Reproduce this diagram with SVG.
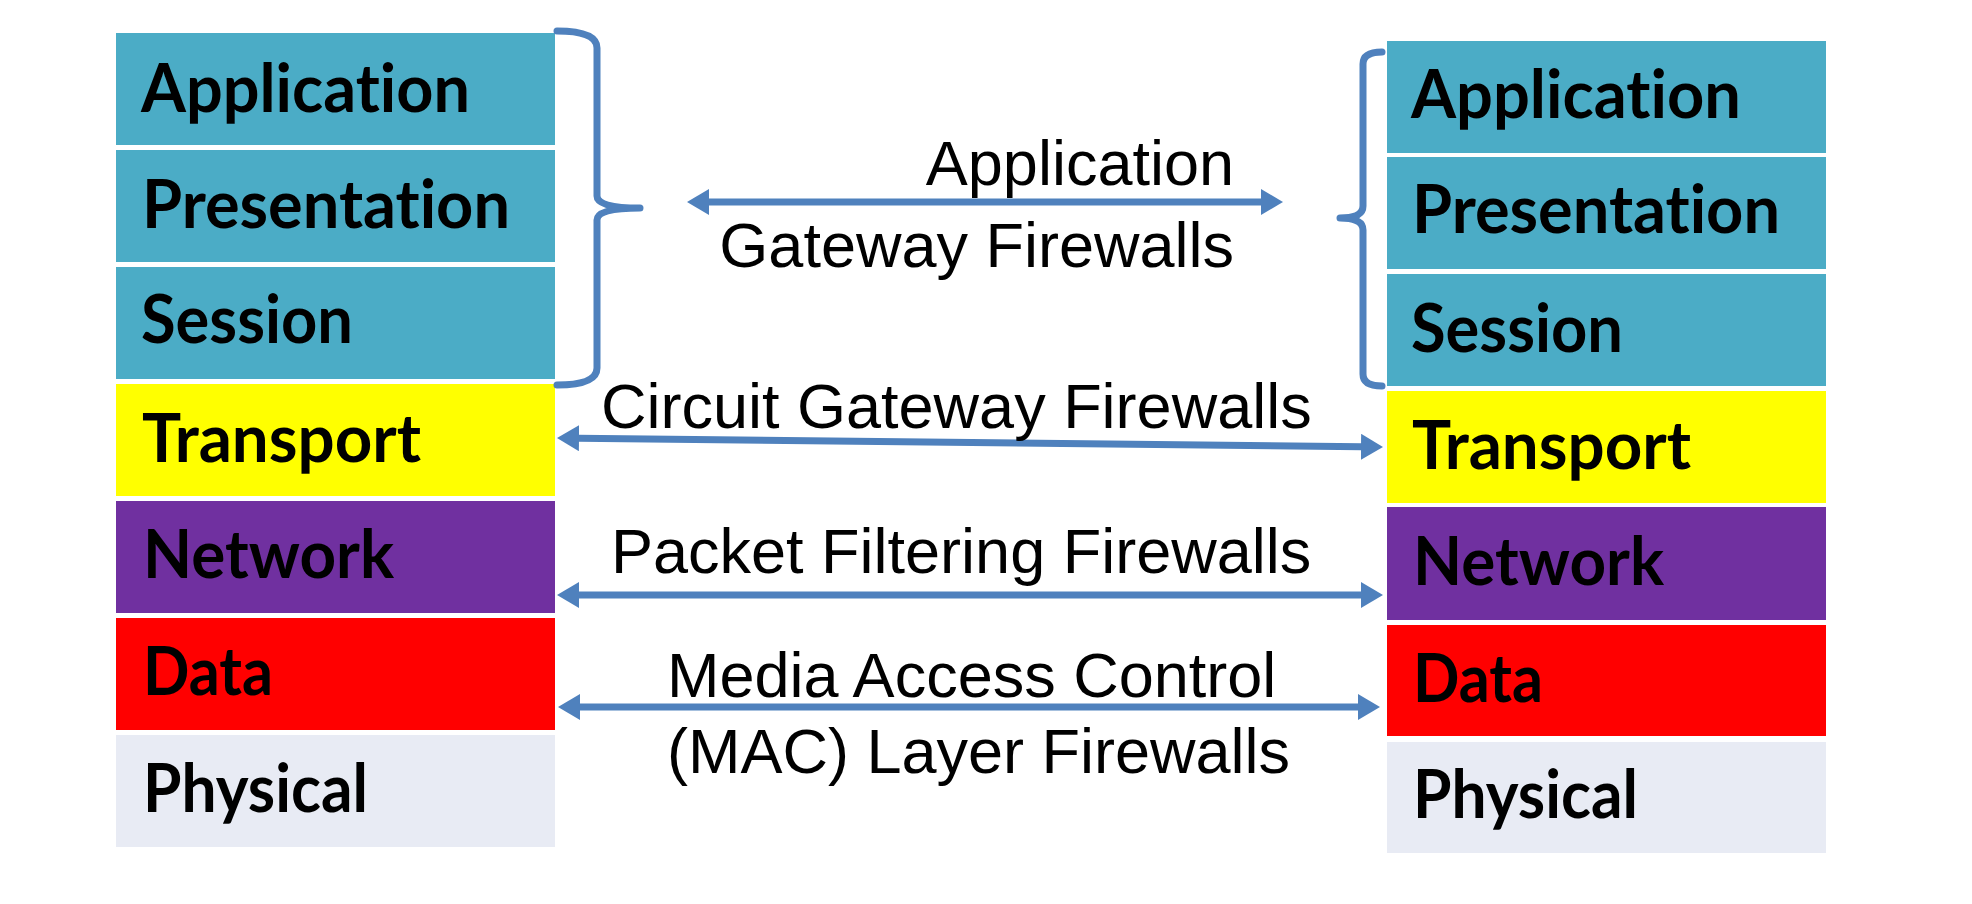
<svg xmlns="http://www.w3.org/2000/svg" width="1972" height="904" viewBox="0 0 1972 904">
  <style>
    .layer { font-family: Lato, "Open Sans", "Noto Sans", sans-serif; font-weight: 700; font-size: 66px; fill: #000; font-variant-ligatures: none; }
    .lbl { font-family: "Liberation Sans", Arial, sans-serif; font-size: 63px; fill: #000; }
    .app { fill: #4BACC6; }
    .trn { fill: #FFFF00; }
    .net { fill: #7030A0; }
    .dat { fill: #FF0000; }
    .phy { fill: #E8EBF4; }
    .conn { stroke: #4F81BD; stroke-width: 7; fill: none; }
    .brace { stroke: #4F81BD; stroke-width: 7; fill: none; stroke-linecap: round; stroke-linejoin: round; }
  </style>
  <defs>
    <marker id="ah" viewBox="0 0 22 26" refX="1" refY="13" markerWidth="22" markerHeight="26" markerUnits="userSpaceOnUse" orient="auto-start-reverse">
      <path d="M0,0 L22,13 L0,26 z" fill="#4F81BD"/>
    </marker>
  </defs>
  <rect width="1972" height="904" fill="#FFFFFF"/>

  <!-- Left stack -->
  <g id="left-application"><rect class="app" x="116" y="33" width="439" height="112"/><text class="layer" x="141" y="112" textLength="329" lengthAdjust="spacingAndGlyphs">Application</text></g>
  <g id="left-presentation"><rect class="app" x="116" y="150" width="439" height="112"/><text class="layer" x="142" y="228" textLength="368" lengthAdjust="spacingAndGlyphs">Presentation</text></g>
  <g id="left-session"><rect class="app" x="116" y="267" width="439" height="112"/><text class="layer" x="141" y="343" textLength="212" lengthAdjust="spacingAndGlyphs">Session</text></g>
  <g id="left-transport"><rect class="trn" x="116" y="384" width="439" height="112"/><text class="layer" x="142" y="462" textLength="279" lengthAdjust="spacingAndGlyphs">Transport</text></g>
  <g id="left-network"><rect class="net" x="116" y="501" width="439" height="112"/><text class="layer" x="143" y="578" textLength="251" lengthAdjust="spacingAndGlyphs">Network</text></g>
  <g id="left-data"><rect class="dat" x="116" y="618" width="439" height="112"/><text class="layer" x="143" y="695" textLength="130" lengthAdjust="spacingAndGlyphs">Data</text></g>
  <g id="left-physical"><rect class="phy" x="116" y="735" width="439" height="112"/><text class="layer" x="143" y="812" textLength="225" lengthAdjust="spacingAndGlyphs">Physical</text></g>

  <!-- Right stack -->
  <g id="right-application"><rect class="app" x="1387" y="41" width="439" height="112"/><text class="layer" x="1411" y="118" textLength="330" lengthAdjust="spacingAndGlyphs">Application</text></g>
  <g id="right-presentation"><rect class="app" x="1387" y="157" width="439" height="112"/><text class="layer" x="1412" y="233" textLength="368" lengthAdjust="spacingAndGlyphs">Presentation</text></g>
  <g id="right-session"><rect class="app" x="1387" y="274" width="439" height="112"/><text class="layer" x="1411" y="352" textLength="212" lengthAdjust="spacingAndGlyphs">Session</text></g>
  <g id="right-transport"><rect class="trn" x="1387" y="391" width="439" height="112"/><text class="layer" x="1412" y="469" textLength="279" lengthAdjust="spacingAndGlyphs">Transport</text></g>
  <g id="right-network"><rect class="net" x="1387" y="507" width="439" height="113"/><text class="layer" x="1413" y="585" textLength="251" lengthAdjust="spacingAndGlyphs">Network</text></g>
  <g id="right-data"><rect class="dat" x="1387" y="625" width="439" height="111"/><text class="layer" x="1413" y="702" textLength="130" lengthAdjust="spacingAndGlyphs">Data</text></g>
  <g id="right-physical"><rect class="phy" x="1387" y="742" width="439" height="111"/><text class="layer" x="1413" y="818" textLength="225" lengthAdjust="spacingAndGlyphs">Physical</text></g>

  <!-- Braces -->
  <g id="left-brace">
    <path class="brace" d="M557,31 Q597,31 597,48 L597,196 Q597,208 640,208 Q597,208 597,220 L597,368 Q597,385 557,385"/>
  </g>
  <g id="right-brace">
    <path class="brace" d="M1382,52 Q1363,52 1363,64 L1363,206 Q1363,218 1340,218 Q1363,218 1363,230 L1363,374 Q1363,386 1382,386"/>
  </g>

  <!-- Connectors -->
  <g id="connectors">
    <line class="conn" x1="708" y1="202" x2="1262" y2="202" marker-start="url(#ah)" marker-end="url(#ah)"/>
    <line class="conn" x1="578" y1="438.2" x2="1362" y2="446.8" marker-start="url(#ah)" marker-end="url(#ah)"/>
    <line class="conn" x1="578" y1="595" x2="1362" y2="595" marker-start="url(#ah)" marker-end="url(#ah)"/>
    <line class="conn" x1="579" y1="707" x2="1359" y2="707" marker-start="url(#ah)" marker-end="url(#ah)"/>
  </g>

  <!-- Connector labels -->
  <g id="label-application-gateway">
    <text class="lbl" x="1234" y="185" text-anchor="end">Application</text>
    <text class="lbl" x="1234" y="267" text-anchor="end">Gateway Firewalls</text>
  </g>
  <g id="label-circuit-gateway">
    <text class="lbl" x="601" y="428">Circuit Gateway Firewalls</text>
  </g>
  <g id="label-packet-filtering">
    <text class="lbl" x="611" y="573">Packet Filtering Firewalls</text>
  </g>
  <g id="label-mac">
    <text class="lbl" x="667" y="697">Media Access Control</text>
    <text class="lbl" x="667" y="773">(MAC) Layer Firewalls</text>
  </g>
</svg>
